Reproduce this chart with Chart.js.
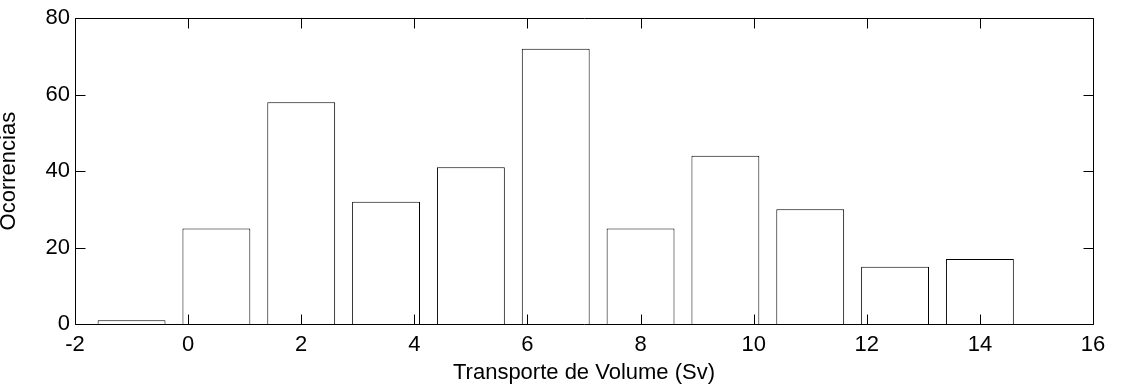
<!DOCTYPE html>
<html>
<head>
<meta charset="utf-8">
<script src="https://cdn.jsdelivr.net/npm/chart.js@4/dist/chart.umd.min.js"></script>
<style>
  html, body { margin: 0; padding: 0; background: #fff; }
  #wrap { width: 1123px; height: 389px; }
</style>
</head>
<body>
<div id="wrap"><canvas id="histChart"></canvas></div>
<script>
// histogram bin centres (Sv) and counts
const binCenters = [-1, 0.5, 2, 3.5, 5, 6.5, 8, 9.5, 11, 12.5, 14];
const counts = [1, 25, 58, 32, 41, 72, 25, 44, 30, 15, 17];
const xTicks = [-2, 0, 2, 4, 6, 8, 10, 12, 14, 16];
const yTicks = [0, 20, 40, 60, 80];

const FONT = 'Liberation Sans, Arial, sans-serif';

// box around the plot with inward ticks on every side
const boxTicks = {
  id: 'boxTicks',
  afterDraw(chart) {
    const { ctx, chartArea: a, scales } = chart;
    const len = 10;
    ctx.save();
    ctx.strokeStyle = '#000';
    ctx.lineWidth = 1;
    ctx.beginPath();
    const l = Math.round(a.left) + 0.5, r = Math.round(a.right) + 0.5;
    const t = Math.round(a.top) + 0.5, b = Math.round(a.bottom) + 0.5;
    ctx.rect(l, t, r - l, b - t);
    xTicks.forEach(v => {
      const px = Math.round(scales.x.getPixelForValue(v)) + 0.5;
      ctx.moveTo(px, b); ctx.lineTo(px, b - len);
      ctx.moveTo(px, t); ctx.lineTo(px, t + len);
    });
    yTicks.forEach(v => {
      const py = Math.round(scales.y.getPixelForValue(v)) + 0.5;
      ctx.moveTo(l, py); ctx.lineTo(l + len, py);
      ctx.moveTo(r, py); ctx.lineTo(r - len, py);
    });
    ctx.stroke();
    ctx.restore();
  }
};

const ctx = document.getElementById('histChart').getContext('2d');

new Chart(ctx, {
  type: 'bar',
  data: {
    datasets: [{
      data: binCenters.map((x, i) => ({ x: x, y: counts[i] })),
      backgroundColor: '#fff',
      borderColor: '#000',
      borderWidth: 1,
      categoryPercentage: 0.8,
      barPercentage: 1.0
    }]
  },
  options: {
    responsive: true,
    maintainAspectRatio: false,
    animation: false,
    layout: { padding: { left: 0, right: 30, top: 16, bottom: 0 } },
    plugins: { legend: { display: false }, tooltip: { enabled: false } },
    scales: {
      x: {
        type: 'linear',
        min: -2,
        max: 16,
        offset: false,
        grid: { display: false, drawTicks: false, offset: false },
        border: { display: false },
        afterBuildTicks: axis => { axis.ticks = xTicks.map(v => ({ value: v })); },
        afterFit: axis => { axis.height = 65; },
        ticks: {
          color: '#000',
          padding: 8,
          maxRotation: 0,
          autoSkip: false,
          font: { family: FONT, size: 22 }
        },
        title: {
          display: true,
          text: 'Transporte de Volume (Sv)',
          color: '#000',
          padding: { top: 0, bottom: 3 },
          font: { family: FONT, size: 22 }
        }
      },
      y: {
        min: 0,
        max: 80,
        grid: { display: false, drawTicks: false },
        border: { display: false },
        afterBuildTicks: axis => { axis.ticks = yTicks.map(v => ({ value: v })); },
        afterFit: axis => { axis.width = 75; },
        ticks: {
          color: '#000',
          padding: 5,
          font: { family: FONT, size: 22 }
        },
        title: {
          display: true,
          text: 'Ocorrencias',
          color: '#000',
          padding: { top: -4, bottom: 0 },
          font: { family: FONT, size: 22 }
        }
      }
    }
  },
  plugins: [boxTicks]
});
</script>
</body>
</html>
